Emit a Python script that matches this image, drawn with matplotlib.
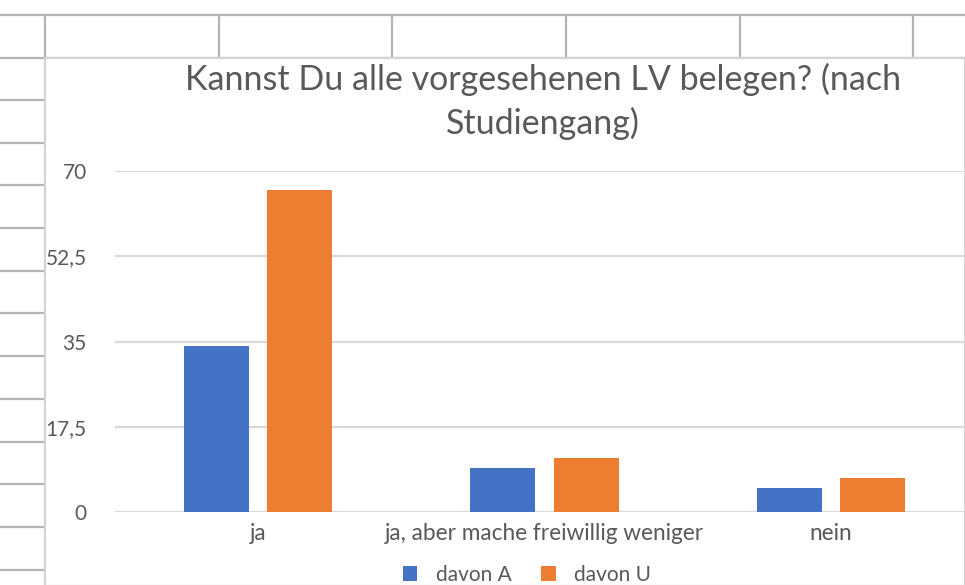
import numpy as np
import matplotlib
matplotlib.use("Agg")
import matplotlib.pyplot as plt
from matplotlib.lines import Line2D
from matplotlib.patches import Rectangle

categories = ["ja", "ja, aber mache freiwillig weniger", "nein"]
davon_A = [34, 9, 5]
davon_U = [66, 11, 7]
series_names = ["davon A", "davon U"]
y_ticks = [0, 17.5, 35, 52.5, 70]
y_labels = ["0", "17,5", "35", "52,5", "70"]
title = "Kannst Du alle vorgesehenen LV belegen? (nach\nStudiengang)"

blue = "#4472C4"
orange = "#ED7D31"
text_grey = "#595959"
W, H = 965, 585

plt.rcParams['font.family'] = ['Lato', 'DejaVu Sans']

fig = plt.figure(figsize=(W / 100, H / 100), dpi=100)
fig.patch.set_facecolor("white")

def px(x, y):
    return x / W, 1 - y / H

# spreadsheet cell grid behind the chart
cell_grey = "#b4b4b4"
for y in [15, 57.5]:
    fig.add_artist(Line2D([0, 1], [px(0, y)[1]] * 2, color=cell_grey, lw=1.6, zorder=-10))
for x in [45, 219, 392, 566, 740, 913]:
    fig.add_artist(Line2D([px(x, 0)[0]] * 2, [px(0, 15)[1], px(0, 57.5)[1]],
                          color=cell_grey, lw=1.6, zorder=-10))
for y in np.arange(100, 590, 42.7):
    fig.add_artist(Line2D([0, px(43, 0)[0]], [px(0, y)[1]] * 2, color=cell_grey, lw=1.6, zorder=-10))

# chart area
fig.add_artist(Rectangle(px(44.5, 586), (W - 44.5) / W, (586 - 58) / H,
                         facecolor="white", edgecolor="#d4d4d4", lw=1.6,
                         transform=fig.transFigure, zorder=-5))

left, right = px(114.5, 0)[0], px(974.5, 0)[0]
bottom, top = px(0, 512)[1], px(0, 171)[1]
ax = fig.add_axes([left, bottom, right - left, top - bottom])
ax.set_facecolor("none")

x = np.arange(len(categories))
w = 0.227
off = 0.145
ax.bar(x - off, davon_A, w, color=blue, label=series_names[0], zorder=3)
ax.bar(x + off, davon_U, w, color=orange, label=series_names[1], zorder=3)

ax.set_xlim(-0.5, 2.5)
ax.set_ylim(0, 70)
ax.set_yticks(y_ticks)
ax.set_yticklabels(y_labels)
ax.set_xticks(x)
ax.set_xticklabels(categories)
ax.yaxis.grid(True, color="#d9d9d9", lw=1.6, zorder=0)
ax.set_axisbelow(True)
for s in ax.spines.values():
    s.set_visible(False)
ax.tick_params(axis="both", length=0, colors=text_grey)
ax.tick_params(axis="y", pad=20, labelsize=15)
ax.tick_params(axis="x", pad=8, labelsize=16.3)

fig.text(543 / W, px(0, 101)[1], title, ha="center", va="center",
         fontsize=24.5, color=text_grey, linespacing=1.4)

leg = fig.legend(loc="center", bbox_to_anchor=(527 / W, px(0, 575)[1]), ncol=2,
                 frameon=False, fontsize=15, handlelength=0.7, handleheight=0.7,
                 handletextpad=0.9, columnspacing=1.4)
for t in leg.get_texts():
    t.set_color(text_grey)

fig.savefig("out.png", dpi=100)
